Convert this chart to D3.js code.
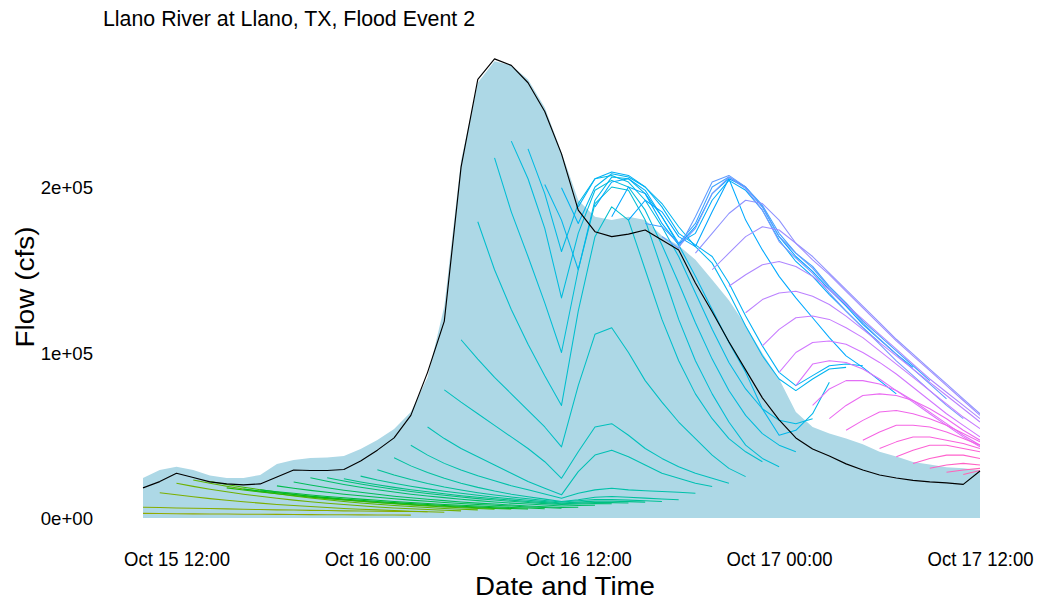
<!DOCTYPE html>
<html>
<head>
<meta charset="utf-8">
<script src="https://cdn.jsdelivr.net/npm/d3@7"></script>
<style>
  body { margin: 0; background: #ffffff; }
  svg { display: block; }
  text { font-family: "Liberation Sans", Arial, Helvetica, sans-serif; fill: #000; }
</style>
</head>
<body>
<svg id="chart" width="1039" height="600"></svg>
<script>
// ---- data (flows in thousand cfs, hourly steps from Oct 15 2018 10:00) ----
const seriesStart = new Date(2018, 9, 15, 10, 0);

// observed flow (shaded area)
const observedFlow = [24.2, 29, 30.9, 29, 25.7, 24.2, 24.2, 26, 32.7, 35.1, 36.3, 36.6, 37.5, 41.7, 47.2, 53.8,
  64.1, 85, 128, 216, 263, 276, 273.5, 265, 248, 221, 192, 182, 180, 182, 180, 170.6, 164.6, 156, 144, 131.5,
  116.5, 99.5, 84, 64, 55, 51, 48, 44.5, 40, 37.2, 33.8, 32.4, 30.7, 30, 28.8];

// analysis / simulated flow (black line)
const analysisFlow = [18.2, 22, 27, 24.5, 21.8, 20.6, 20, 20.6, 24.8, 29, 28.7, 28.7, 29.3, 34.5, 41, 48.4,
  62, 88, 119, 212, 265, 277.4, 273.5, 263, 245.6, 220, 186, 173, 170, 171.5, 174, 168, 162, 142, 124.6, 106.5,
  89.5, 72.6, 59.3, 48.4, 41.7, 37.5, 32.7, 29, 26, 24.2, 22.7, 21.8, 21.2, 20.3, 28.4];

// hourly forecast runs: issue hour (steps after series start) and forecast flows
const forecastIssueHour = [-1, 0, 1, 2, 3, 4, 5, 6, 7, 8, 9, 10, 11, 12, 13, 14, 15, 16, 17, 18, 19, 20,
  21, 22, 23, 24, 25, 26, 27, 28, 29, 30, 31, 32, 33, 34, 35, 36, 37, 38, 39, 40, 41, 42, 43, 44, 45, 46, 47, 48, 49];

const forecastFlows = [
  [2.9, 2.8, 2.7, 2.6, 2.5, 2.45, 2.4, 2.3, 2.25, 2.2, 2.1, 2.05, 2.0, 1.95, 1.9, 1.85, 1.8, 1.75],
  [6.5, 6.3, 6.1, 5.9, 5.7, 5.5, 5.3, 5.1, 4.9, 4.8, 4.6, 4.5, 4.3, 4.2, 4.1, 4.0, 3.9, 3.8],
  [15.3, 14, 12.8, 11.7, 10.7, 9.8, 9.0, 8.2, 7.5, 6.9, 6.3, 5.8, 5.3, 4.9, 4.5, 4.1, 3.8, 3.5],
  [21, 19.1, 17.4, 15.8, 14.4, 13.1, 11.9, 10.8, 9.8, 8.9, 8.1, 7.4, 6.7, 6.1, 5.6, 5.1, 4.7, 4.3],
  [23, 21, 19.2, 17.5, 16, 14.6, 13.3, 12.1, 11, 10, 9.1, 8.3, 7.6, 6.9, 6.3, 5.8, 5.3, 4.9],
  [22, 20.2, 18.6, 17.1, 15.7, 14.4, 13.2, 12.1, 11.1, 10.2, 9.4, 8.6, 7.9, 7.3, 6.7, 6.2, 5.7, 5.3],
  [18.2, 16.9, 15.7, 14.6, 13.6, 12.6, 11.7, 10.9, 10.1, 9.4, 8.8, 8.2, 7.6, 7.1, 6.6, 6.2, 5.8, 5.4],
  [17.5, 16.3, 15.2, 14.2, 13.2, 12.3, 11.5, 10.7, 10.0, 9.3, 8.7, 8.1, 7.6, 7.1, 6.6, 6.2, 5.8, 5.4],
  [17, 15.9, 14.9, 13.9, 13.0, 12.2, 11.4, 10.7, 10.0, 9.4, 8.8, 8.2, 7.7, 7.2, 6.8, 6.4, 6.0, 5.6],
  [19.4, 18.0, 16.7, 15.5, 14.4, 13.4, 12.5, 11.6, 10.8, 10.1, 9.4, 8.8, 8.2, 7.7, 7.2, 6.7, 6.3, 5.9],
  [21.7, 19.9, 18.3, 16.8, 15.5, 14.3, 13.2, 12.2, 11.3, 10.5, 9.7, 9.0, 8.4, 7.8, 7.3, 6.8, 6.4, 6.5],
  [24.3, 22.2, 20.3, 18.6, 17.1, 15.7, 14.4, 13.3, 12.3, 11.3, 10.5, 9.7, 9.0, 8.4, 7.8, 7.3, 7.5, 7.7],
  [24.3, 22.3, 20.5, 18.9, 17.4, 16.0, 14.8, 13.7, 12.7, 11.7, 10.9, 10.1, 9.4, 8.7, 8.1, 8.4, 8.7, 8.6],
  [23.7, 21.8, 20.1, 18.5, 17.1, 15.8, 14.6, 13.5, 12.5, 11.6, 10.8, 10.0, 9.3, 8.6, 9.0, 9.4, 9.3, 9.1],
  [25.3, 23, 21, 19.2, 17.6, 16.2, 14.9, 13.7, 12.6, 11.6, 10.7, 9.9, 9.1, 9.6, 10.2, 10.2, 9.9, 9.6],
  [29.2, 26, 23.2, 20.8, 18.7, 16.9, 15.3, 13.9, 12.7, 11.6, 10.6, 9.7, 10.4, 11.2, 11.2, 10.8, 10.4, 10.0],
  [36.4, 31.5, 27.5, 24, 21, 18.5, 16.3, 14.4, 12.8, 11.4, 10, 11, 12.5, 13, 12.5, 12, 11.5, 11],
  [44, 38, 33, 29, 25.5, 22.5, 19.5, 17, 14.5, 12, 15, 17, 18, 17, 16.5, 16, 15.5, 15],
  [55, 48, 42, 37, 32, 27, 22, 18, 14, 28, 38, 41, 37, 32, 27, 24, 21, 19],
  [77.4, 70, 63, 56, 49, 42, 34, 24, 40, 55, 57, 50, 42, 36, 31, 27, 24, 21],
  [107.7, 96, 85, 75, 65, 55, 43, 80, 111, 115, 100, 83, 70, 58, 48, 38, 30, 25],
  [179, 150, 126, 105, 86, 68, 125, 170, 188, 180, 150, 120, 95, 75, 60, 48, 40, 34],
  [217.6, 185, 158, 130, 100, 150, 190, 200, 198, 180, 150, 120, 95, 75, 58, 44, 36, 31],
  [227.7, 205, 175, 133, 172, 198, 204, 200, 186, 165, 142, 118, 96, 77, 62, 51, 44, 40],
  [223, 196, 161, 190, 205, 207, 203, 192, 176, 158, 136, 114, 94, 78, 66, 59, 57, 60],
  [201.5, 180, 150, 192, 206, 205, 196, 182, 165, 146, 126, 106, 88, 66, 50, 53, 63, 82],
  [199.5, 178, 200, 208, 206, 200, 190, 176, 164, 154, 136, 116, 98, 84, 77, 84, 90, 91],
  [188, 205, 209, 207, 200, 188, 172, 165, 158, 142, 122, 104, 88, 80, 86, 92, 93, 92],
  [188, 203, 205, 198, 182, 166, 172, 192, 204, 198, 186, 168, 155, 146, 135, 125, 115, 106],
  [182, 200, 196, 178, 165, 176, 196, 205, 180, 162, 146, 133, 121, 109, 98, 91, 83, 75],
  [180, 192, 185, 170, 164, 185, 205, 200, 188, 170, 158, 149, 138, 128, 117, 108, 99, 91],
  [178, 176, 166, 178, 200, 206, 200, 189, 172, 160, 152, 140, 130, 119, 110, 101, 92, 83],
  [170, 163, 182, 203, 207, 200, 188, 170, 160, 151, 139, 129, 118, 108, 99, 90, 81, 72],
  [164, 175, 196, 206, 199, 186, 167, 157, 148, 136, 125, 115, 105, 95, 86, 77, 68, 60],
  [160, 172, 184, 192, 190, 180, 166, 158, 148, 138, 128, 118, 108, 99, 90, 81, 72, 63],
  [150, 160, 170, 176, 174, 166, 156, 147, 137, 127, 117, 107, 98, 89, 80, 71, 62],
  [140, 147, 153, 155, 152, 146, 138, 129, 120, 111, 102, 93, 84, 76, 68, 60],
  [124, 132, 136, 137, 134, 129, 122, 114, 106, 98, 90, 82, 74, 66, 58],
  [104, 114, 121, 122, 120, 115, 109, 101, 93, 85, 77, 69, 61, 54],
  [88, 100, 106, 107, 105, 100, 94, 87, 79, 71, 63, 56, 49],
  [80, 93, 95, 94, 90, 84, 77, 70, 63, 56, 49, 43],
  [68, 78, 83, 83, 81, 77, 71, 64, 57, 50, 44],
  [60, 68, 74, 75, 74, 71, 66, 60, 53, 47],
  [53, 59, 64, 65, 63, 60, 56, 51, 46],
  [47, 52, 56, 56, 55, 52, 48, 44],
  [42, 46, 49, 49, 47, 45, 42],
  [37, 41, 44, 44, 42, 40],
  [33, 36, 38, 38, 36],
  [30, 32, 33, 32],
  [27.7, 29, 30],
  [26.3, 28.7]
];

const xTickTimes = [
  new Date(2018, 9, 15, 12, 0), new Date(2018, 9, 16, 0, 0), new Date(2018, 9, 16, 12, 0),
  new Date(2018, 9, 17, 0, 0), new Date(2018, 9, 17, 12, 0)
];
const yTickValues = [0, 100000, 200000];

const chartTitle = "Llano River at Llano, TX, Flood Event 2";
const xTitle = "Date and Time";
const yTitle = "Flow (cfs)";

// ---- helpers ----
const HOUR = 3600 * 1000;
const timeAt = h => new Date(seriesStart.getTime() + h * HOUR);
const seriesEnd = timeAt(observedFlow.length - 1);

// polar-Luv colour (same model as the default discrete hue palette)
function hueColour(h, c = 100, l = 65) {
  const hr = h * Math.PI / 180;
  const u = c * Math.cos(hr), v = c * Math.sin(hr);
  const Xn = 95.047, Yn = 100, Zn = 108.883;
  const den = Xn + 15 * Yn + 3 * Zn;
  const un = 4 * Xn / den, vn = 9 * Yn / den;
  const Y = l > 8 ? Yn * Math.pow((l + 16) / 116, 3) : Yn * l / 903.3;
  const up = u / (13 * l) + un, vp = v / (13 * l) + vn;
  const X = Y * 9 * up / (4 * vp);
  const Z = Y * (12 - 3 * up - 20 * vp) / (4 * vp);
  const x = X / 100, y = Y / 100, z = Z / 100;
  const r = 3.2404542 * x - 1.5371385 * y - 0.4985314 * z;
  const g = -0.9692660 * x + 1.8760108 * y + 0.0415560 * z;
  const b = 0.0556434 * x - 0.2040259 * y + 1.0572252 * z;
  const gam = t => {
    t = t <= 0.0031308 ? 12.92 * t : 1.055 * Math.pow(Math.max(t, 0), 1 / 2.4) - 0.055;
    return Math.round(255 * Math.max(0, Math.min(1, t)));
  };
  return `rgb(${gam(r)},${gam(g)},${gam(b)})`;
}

function sciLabel(d) {
  const [m, e] = d3.format(".0e")(d).split("e");
  const sign = e[0] === "-" ? "-" : "+";
  const digits = e.replace(/^[+-]/, "").padStart(2, "0");
  return `${m}e${sign}${digits}`;
}

// ---- layout ----
const svg = d3.select("#chart");
const plotLeft = 143, plotRight = 980;

const x = d3.scaleTime().domain([seriesStart, seriesEnd]).range([plotLeft, plotRight]);
const y = d3.scaleLinear().domain([0, 200000]).range([518, 187]);

svg.append("defs").append("clipPath").attr("id", "plot-clip")
  .append("rect").attr("x", plotLeft).attr("y", 0).attr("width", plotRight - plotLeft).attr("height", 600);

const observed = observedFlow.map((v, i) => ({ t: timeAt(i), v: v * 1000 }));
const analysis = analysisFlow.map((v, i) => ({ t: timeAt(i), v: v * 1000 }));

// shaded observed flow
svg.append("path")
  .datum(observed)
  .attr("fill", "#ADD8E6")
  .attr("d", d3.area().x(d => x(d.t)).y0(y(0)).y1(d => y(d.v)));

// forecast runs, coloured by issue time
const forecastLayer = svg.append("g").attr("clip-path", "url(#plot-clip)");
const lineGen = d3.line().x(d => x(d.t)).y(d => y(d.v));
forecastFlows.forEach((vals, idx) => {
  const issue = forecastIssueHour[idx];
  const pts = vals.map((v, j) => ({ t: timeAt(issue + j), v: v * 1000 }));
  forecastLayer.append("path")
    .datum(pts)
    .attr("fill", "none")
    .attr("stroke", hueColour(100 + 5 * issue))
    .attr("stroke-width", 1.05)
    .attr("stroke-linejoin", "round")
    .attr("d", lineGen);
});

// analysis line
svg.append("path")
  .datum(analysis)
  .attr("fill", "none")
  .attr("stroke", "#000")
  .attr("stroke-width", 1.15)
  .attr("stroke-linejoin", "round")
  .attr("d", lineGen);

// ---- axes ----
const fmtTime = d3.timeFormat("%b %d %H:%M");
const xAxis = svg.append("g")
  .attr("transform", "translate(0,518)")
  .call(d3.axisBottom(x).tickValues(xTickTimes).tickFormat(fmtTime).tickSize(0));
xAxis.select(".domain").remove();
xAxis.selectAll("text")
  .attr("y", 48).attr("dy", null)
  .attr("font-size", 19.5)
  .attr("textLength", 106)
  .attr("lengthAdjust", "spacingAndGlyphs")
  .style("font-family", "'Liberation Sans', Arial, sans-serif")
  .attr("fill", "#000");

const yAxis = svg.append("g")
  .attr("transform", "translate(103,0)")
  .call(d3.axisLeft(y).tickValues(yTickValues).tickFormat(sciLabel).tickSize(0).tickPadding(10));
yAxis.select(".domain").remove();
yAxis.selectAll("text")
  .attr("font-size", 18.6)
  .attr("dy", "0.36em")
  .style("font-family", "'Liberation Sans', Arial, sans-serif")
  .attr("fill", "#000");

// ---- titles ----
svg.append("text")
  .attr("x", 103).attr("y", 26)
  .attr("font-size", 22)
  .attr("textLength", 372)
  .attr("lengthAdjust", "spacingAndGlyphs")
  .text(chartTitle);

svg.append("text")
  .attr("x", 565).attr("y", 595)
  .attr("text-anchor", "middle")
  .attr("font-size", 25.5)
  .attr("textLength", 180)
  .attr("lengthAdjust", "spacingAndGlyphs")
  .text(xTitle);

svg.append("text")
  .attr("transform", "translate(33.5,287) rotate(-90)")
  .attr("text-anchor", "middle")
  .attr("font-size", 26)
  .attr("textLength", 121)
  .attr("lengthAdjust", "spacingAndGlyphs")
  .text(yTitle);
</script>
</body>
</html>
